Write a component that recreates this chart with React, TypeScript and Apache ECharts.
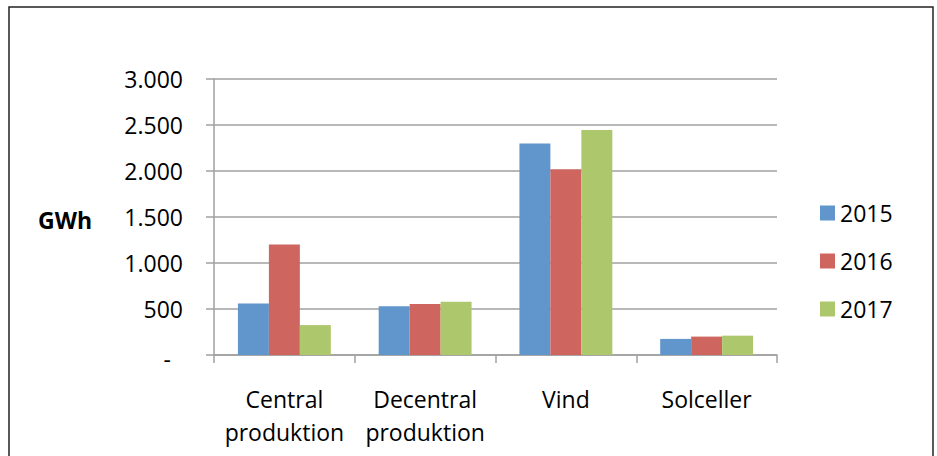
import React, { useEffect, useRef } from "react";
import * as echarts from "echarts";

const categories = ["Central\nproduktion", "Decentral\nproduktion", "Vind", "Solceller"];
const seriesNames = ["2015", "2016", "2017"];
const values2015 = [560, 530, 2300, 175];
const values2016 = [1200, 555, 2020, 200];
const values2017 = [325, 578, 2445, 210];
const colors = ["#6196cc", "#ce655e", "#acc76c"];
const yTicks = { min: 0, max: 3000, interval: 500 };
const unitLabel = "GWh";

const FONT = "Open Sans";

function fmt(v: number): string {
  if (v === 0) return "{d|-}";
  const s = String(Math.round(v));
  return s.replace(/\B(?=(\d{3})+(?!\d))/g, ".");
}

export default function App() {
  const ref = useRef<HTMLDivElement>(null);
  useEffect(() => {
    if (!ref.current) return;
    const chart = echarts.init(ref.current, undefined, { renderer: "svg" });
    const data = [values2015, values2016, values2017];
    chart.setOption({
      animation: false,
      backgroundColor: "#ffffff",
      textStyle: { fontFamily: FONT },
      grid: { left: 214, right: 160, top: 79, bottom: 101, containLabel: false },
      legend: {
        orient: "vertical",
        left: 815,
        top: 196,
        itemWidth: 15,
        itemHeight: 15,
        itemGap: 24,
        icon: "rect",
        textStyle: { fontFamily: FONT, fontSize: 23, color: "#000", lineHeight: 24 },
        data: seriesNames,
      },
      xAxis: {
        type: "category",
        data: categories,
        axisLine: { show: true, lineStyle: { color: "#a0a0a0", width: 1.5 } },
        axisTick: { show: true, length: 8, alignWithLabel: false, lineStyle: { color: "#a0a0a0", width: 1.5 } },
        axisLabel: {
          fontFamily: FONT,
          fontSize: 23,
          color: "#000",
          lineHeight: 33,
          margin: 27,
          interval: 0,
        },
        splitLine: { show: false },
      },
      yAxis: {
        type: "value",
        min: yTicks.min,
        max: yTicks.max,
        interval: yTicks.interval,
        axisLine: { show: true, lineStyle: { color: "#a0a0a0", width: 1.5 } },
        axisTick: { show: true, length: 8, lineStyle: { color: "#a0a0a0", width: 1.5 } },
        splitLine: { show: true, lineStyle: { color: "#a0a0a0", width: 1.5 } },
        axisLabel: {
          fontFamily: FONT,
          fontSize: 23,
          color: "#000",
          margin: 31,
          formatter: fmt,
          rich: {
            d: { fontFamily: FONT, fontSize: 23, color: "#000", padding: [8, 12, 0, 0] },
          },
        },
      },
      series: seriesNames.map((name, i) => ({
        name,
        type: "bar",
        data: data[i],
        barGap: "0%",
        barCategoryGap: "34%",
        itemStyle: { color: colors[i] },
      })),
      graphic: [
        {
          type: "rect",
          shape: { x: 9, y: 7, width: 924, height: 470 },
          style: { fill: "none", stroke: "#222", lineWidth: 1.5 },
          silent: true,
        },
        {
          type: "text",
          x: 38,
          y: 220,
          style: {
            text: unitLabel,
            fontFamily: FONT,
            fontSize: 23,
            fontWeight: "bold",
            fill: "#000",
            textVerticalAlign: "middle",
          },
        },
      ],
    });
    return () => chart.dispose();
  }, []);
  return (
    <div
      ref={ref}
      style={{ position: "fixed", left: 0, top: 0, width: 937, height: 456 }}
    />
  );
}
